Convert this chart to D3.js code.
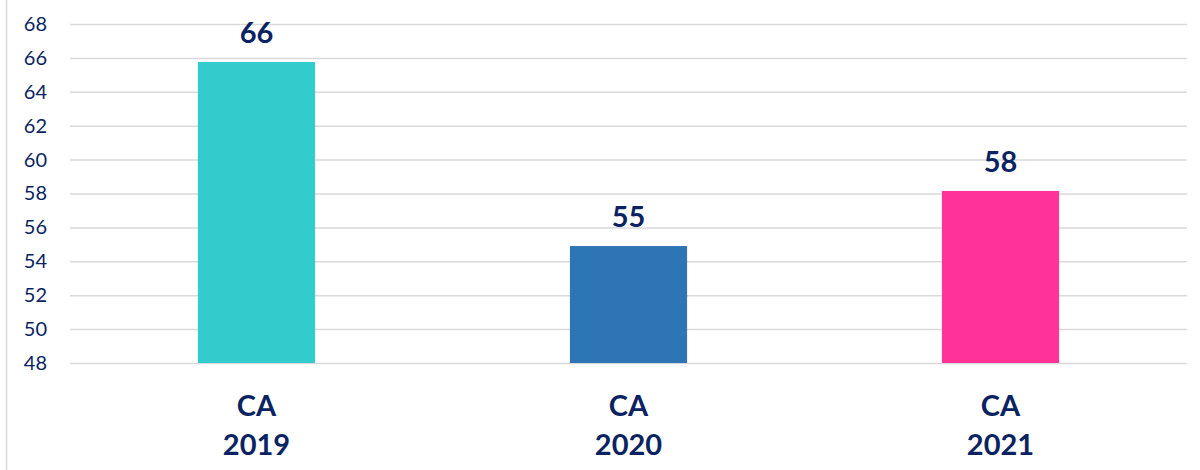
<!DOCTYPE html>
<html><head><meta charset="utf-8">
<script src="https://cdn.jsdelivr.net/npm/d3@7"></script>
<style>html,body{margin:0;padding:0;background:#fff;}</style>
</head><body>
<svg id="c" width="1200" height="470"></svg>
<script>
const categories = ["CA 2019", "CA 2020", "CA 2021"];
const values = [65.76, 54.9, 58.15];
const valueLabels = ["66", "55", "58"];
const colors = ["#33CCCC", "#2E75B6", "#FF3399"];
const yTicks = [48, 50, 52, 54, 56, 58, 60, 62, 64, 66, 68];

const svg = d3.select("#c");
const navy = "#0B2461";
const font = "Lato, 'Open Sans', sans-serif";

svg.append("line").attr("x1", 6.5).attr("x2", 6.5).attr("y1", 0).attr("y2", 470)
  .attr("stroke", "#d9d9d9").attr("stroke-width", 1.5);

const x = d3.scaleBand().domain(categories).range([70.5, 1186.5]).paddingInner(0.685).paddingOuter(0.3425);
const y = d3.scaleLinear().domain([48, 68]).range([363, 24]);

const yAxis = d3.axisLeft(y).tickValues(yTicks).tickSize(-(1187 - 70)).tickPadding(23);
const ga = svg.append("g").attr("transform", "translate(70,0)").call(yAxis);
ga.select(".domain").remove();
ga.selectAll(".tick line").attr("stroke", "#d9d9d9").attr("stroke-width", 1.5);
ga.selectAll(".tick text").attr("fill", navy).style("font-family", font).style("font-size", "20px");

svg.selectAll("rect.bar").data(categories).enter().append("rect")
  .attr("x", d => x(d)).attr("width", x.bandwidth())
  .attr("y", (d, i) => y(values[i])).attr("height", (d, i) => y(48) - y(values[i]))
  .attr("fill", (d, i) => colors[i]);

svg.selectAll("text.val").data(categories).enter().append("text")
  .attr("x", d => x(d) + x.bandwidth() / 2).attr("y", (d, i) => y(values[i]) - 19)
  .attr("text-anchor", "middle").attr("fill", navy)
  .style("font-family", font).style("font-weight", "bold").style("font-size", "29px")
  .text((d, i) => valueLabels[i]);

const cl = svg.selectAll("text.cat").data(categories).enter().append("text")
  .attr("text-anchor", "middle").attr("fill", navy)
  .style("font-family", font).style("font-weight", "bold").style("font-size", "29px");
cl.each(function(d) {
  const parts = d.split(" ");
  const t = d3.select(this);
  parts.forEach((p, j) => {
    t.append("tspan").attr("x", x(d) + x.bandwidth() / 2).attr("y", 416 + j * 39).text(p);
  });
});
</script>
</body></html>
